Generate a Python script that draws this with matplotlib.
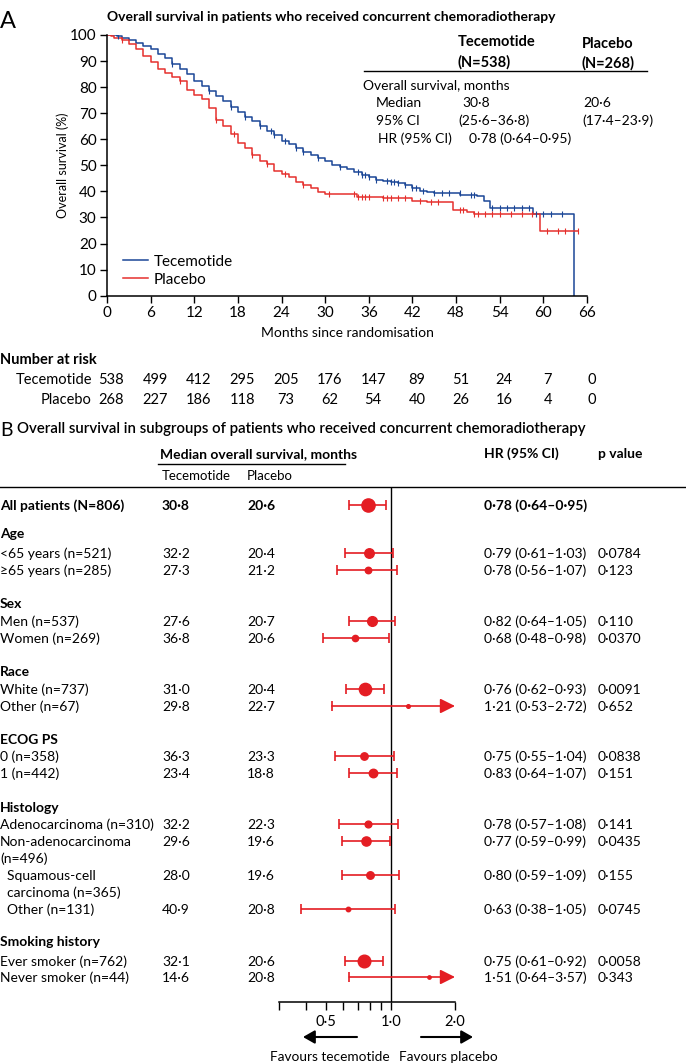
import numpy as np
import matplotlib.pyplot as plt
from matplotlib.lines import Line2D
from matplotlib.patches import FancyArrowPatch
from matplotlib.ticker import NullLocator
from matplotlib.transforms import blended_transform_factory

plt.rcParams['font.family'] = ['Lato', 'DejaVu Sans']

W, H = 686, 1064

# Panel A: Kaplan-Meier curves (months, % alive)
tec_t = [0, 1.4, 2, 3, 4, 5, 6, 7, 8, 9, 10, 11, 12, 13, 14, 15, 16, 17, 18, 19,
         20, 21, 22, 23, 24, 25, 26, 27, 28, 29, 30, 31, 32, 33, 34, 35, 36, 37,
         38, 39, 40, 41, 42, 43, 44, 45, 46.3, 48.6, 50.9, 51.8, 52.7, 58.6, 64.2]
tec_s = [100, 99.5, 99, 98, 97, 95.8, 94.5, 92.8, 91, 89, 87, 85, 82.5, 80.5, 78.5,
         76.5, 74.5, 72.5, 70.5, 68.5, 67, 65, 63, 61.5, 59.5, 58, 56.5, 55.3, 54,
         53, 51.5, 50.3, 49.5, 48.5, 47.3, 46.3, 45.5, 44.5, 44, 43.5, 43.2, 42.3,
         41.3, 40.3, 39.8, 39.5, 39.4, 38.7, 38.1, 36.2, 33.6, 31.4, 0]

pbo_t = [0, 0.5, 1, 2, 3, 4, 5, 6, 7, 8, 9, 10, 11, 12, 13, 14, 15, 16, 17, 18,
         19, 20, 21, 22, 23, 24, 25, 26, 27, 28, 29, 30, 34.4, 38, 42, 44, 47.6,
         49.5, 50.5, 59.5, 64.8]
pbo_s = [100, 99.5, 99, 98, 96.5, 94.5, 92, 89.5, 87, 85.3, 84, 82.5, 79, 77, 75.5,
         72, 67.5, 65, 62, 58.5, 56.5, 54, 51.5, 50.5, 48, 46.5, 45.5, 43.5, 42.5,
         41.5, 39.8, 39, 38, 37.5, 36.5, 35.8, 33, 32.2, 31.4, 25, 25]

tec_cens = [1.5, 9, 14, 17, 19, 21, 22.5, 23, 24.5, 26, 27, 29, 32, 34.5, 35, 35.5,
            36, 37, 38.5, 39, 39.5, 40, 41, 42, 42.5, 43.5, 45, 46, 47, 48.5, 50,
            50.5, 53, 54, 55, 56, 57, 58, 59, 60, 61, 62.5]
pbo_cens = [2, 10, 15, 17.5, 20, 22, 24.5, 27, 30.5, 34, 34.5, 35, 35.5, 36, 38,
            38.5, 39, 40, 41, 43, 44.5, 45.5, 48.5, 49, 50.5, 51, 52, 53, 54, 55.5,
            57, 58.5, 60.5, 62, 63, 64.8]

risk_times = [0, 6, 12, 18, 24, 30, 36, 42, 48, 54, 60, 66]
risk_tec = [538, 499, 412, 295, 205, 176, 147, 89, 51, 24, 7, 0]
risk_pbo = [268, 227, 186, 118, 73, 62, 54, 40, 26, 16, 4, 0]

# Panel B: subgroup forest plot
groups = ['', 'Age', 'Sex', 'Race', 'ECOG PS', 'Histology', 'Smoking history']
row_labels = ['All patients (N=806)', '<65 years (n=521)', '\u226565 years (n=285)',
              'Men (n=537)', 'Women (n=269)', 'White (n=737)', 'Other (n=67)',
              '0 (n=358)', '1 (n=442)', 'Adenocarcinoma (n=310)',
              'Non-adenocarcinoma\n(n=496)', '  Squamous-cell\n  carcinoma (n=365)',
              '  Other (n=131)', 'Ever smoker (n=762)', 'Never smoker (n=44)']
n_pts = [806, 521, 285, 537, 269, 737, 67, 358, 442, 310, 496, 365, 131, 762, 44]
med_tec = ['30\u00b78', '32\u00b72', '27\u00b73', '27\u00b76', '36\u00b78', '31\u00b70',
           '29\u00b78', '36\u00b73', '23\u00b74', '32\u00b72', '29\u00b76', '28\u00b70',
           '40\u00b79', '32\u00b71', '14\u00b76']
med_pbo = ['20\u00b76', '20\u00b74', '21\u00b72', '20\u00b77', '20\u00b76', '20\u00b74',
           '22\u00b77', '23\u00b73', '18\u00b78', '22\u00b73', '19\u00b76', '19\u00b76',
           '20\u00b78', '20\u00b76', '20\u00b78']
hr = [0.78, 0.79, 0.78, 0.82, 0.68, 0.76, 1.21, 0.75, 0.83, 0.78, 0.77, 0.80, 0.63, 0.75, 1.51]
hr_lo = [0.64, 0.61, 0.56, 0.64, 0.48, 0.62, 0.53, 0.55, 0.64, 0.57, 0.59, 0.59, 0.38, 0.61, 0.64]
hr_hi = [0.95, 1.03, 1.07, 1.05, 0.98, 0.93, 2.72, 1.04, 1.07, 1.08, 0.99, 1.09, 1.05, 0.92, 3.57]
pvals = ['', '0\u00b70784', '0\u00b7123', '0\u00b7110', '0\u00b70370', '0\u00b70091',
         '0\u00b7652', '0\u00b70838', '0\u00b7151', '0\u00b7141', '0\u00b70435',
         '0\u00b7155', '0\u00b70745', '0\u00b70058', '0\u00b7343']

BLUE = '#1b4797'
RED = '#e5302d'
FRED = '#e41d23'


def dot(v):
    return f'{v:.2f}'.replace('.', '\u00b7')


fig = plt.figure(figsize=(W / 100, H / 100), dpi=100)


def put(x, y, s, **kw):
    kw.setdefault('va', 'center_baseline')
    kw.setdefault('fontsize', 10)
    return fig.text(x / W, 1 - y / H, s, **kw)


def hline(x0, x1, y, lw=1.0):
    fig.add_artist(Line2D([x0 / W, x1 / W], [1 - y / H, 1 - y / H],
                          transform=fig.transFigure, color='black', lw=lw))


# ---------------- Panel A ----------------
put(0, 19, 'A', fontsize=17)
put(107, 16, 'Overall survival in patients who received concurrent chemoradiotherapy',
    fontsize=10, fontweight='bold')

axk = fig.add_axes([107 / W, 1 - 295.7 / H, 480 / W, 260.7 / H])
axk.plot(tec_t, tec_s, drawstyle='steps-post', color=BLUE, lw=1.1, label='Tecemotide')
axk.plot(pbo_t, pbo_s, drawstyle='steps-post', color=RED, lw=1.1, label='Placebo')

# censoring ticks placed on the step curve
for t, s, c, col in [(tec_t, tec_s, tec_cens, BLUE), (pbo_t, pbo_s, pbo_cens, RED)]:
    idx = np.searchsorted(t, c, side='right') - 1
    axk.plot(c, np.array(s)[idx], ls='none', marker='|', ms=5, mew=0.8, color=col)

axk.set_xlim(0, 66)
axk.set_ylim(0, 100)
axk.set_xticks(risk_times)
axk.set_yticks(range(0, 101, 10))
for sp in ['top', 'right']:
    axk.spines[sp].set_visible(False)
for sp in ['left', 'bottom']:
    axk.spines[sp].set_linewidth(1.1)
axk.tick_params(direction='out', length=5, width=1.0, labelsize=11, pad=2.5)
axk.set_xlabel('Months since randomisation', fontsize=10, labelpad=5)
axk.set_ylabel('Overall survival (%)', fontsize=9, labelpad=1)
axk.legend(loc='lower left', bbox_to_anchor=(0.015, 0.0), frameon=False, fontsize=11,
           handlelength=1.6, handletextpad=0.4, labelspacing=0.25, borderaxespad=0.2)

# summary table
put(458, 41, 'Tecemotide', fontweight='bold', fontsize=10.5)
put(458, 61, '(N=538)', fontweight='bold', fontsize=10.5)
put(582, 42, 'Placebo', fontweight='bold', fontsize=10.5)
put(582, 62, '(N=268)', fontweight='bold', fontsize=10.5)
hline(364, 647, 71)
put(363, 84, 'Overall survival, months')
put(376, 102, 'Median')
put(462, 102, '30\u00b78')
put(583, 102, '20\u00b76')
put(376, 120, '95% CI')
put(458, 120, '(25\u00b76\u201336\u00b78)')
put(582, 120, '(17\u00b74\u201323\u00b79)')
put(378, 138, 'HR (95% CI)')
put(469, 138, '0\u00b778 (0\u00b764\u20130\u00b795)')

# number at risk
put(0, 358, 'Number at risk', fontweight='bold', fontsize=10.5)
put(92, 379, 'Tecemotide', ha='right', fontsize=10.5)
put(92, 398, 'Placebo', ha='right', fontsize=10.5)
tr = blended_transform_factory(axk.transData, fig.transFigure)
for t, a, b in zip(risk_times, risk_tec, risk_pbo):
    axk.text(t + 0.6, 1 - 379 / H, str(a), transform=tr, ha='center',
             va='center_baseline', fontsize=10.5)
    axk.text(t + 0.6, 1 - 398 / H, str(b), transform=tr, ha='center',
             va='center_baseline', fontsize=10.5)

# ---------------- Panel B ----------------
put(0, 429, 'B', fontsize=14)
put(17, 428, 'Overall survival in subgroups of patients who received concurrent chemoradiotherapy',
    fontsize=10.8, fontweight='semibold')
put(160, 453, 'Median overall survival, months', fontweight='bold')
hline(158, 345, 464)
put(484, 453, 'HR (95% CI)', fontweight='bold')
put(598, 453, 'p value', fontweight='bold')
put(162, 475, 'Tecemotide', fontsize=9.5)
put(247, 475, 'Placebo', fontsize=9.5)
hline(0, 686, 487)

# layout of rows (pixel rows from the top of the figure)
header_y = [None, 533, 603, 671, 739, 807, 941]
row_y = [505, 553, 570, 621, 638, 689, 706, 756, 773, 824, 841, 875, 909, 961, 977]

for g, y in zip(groups, header_y):
    if g:
        put(0, y, g, fontweight='bold')

axf = fig.add_axes([279 / W, 1 - 1002 / H, (455 - 279) / W, (1002 - 487) / H])
axf.set_xscale('log')
axf.set_xlim(0.3, 2.0)
axf.set_ylim(1002, 487)
axf.patch.set_visible(False)
axf.axvline(1.0, color='black', lw=1.0)

for i, (lab, y) in enumerate(zip(row_labels, row_y)):
    bold = 'bold' if i == 0 else 'normal'
    for k, line in enumerate(lab.split('\n')):
        put(0, y + 17 * k, line, fontweight=bold)
    put(162, y, med_tec[i], fontweight=bold)
    put(247, y, med_pbo[i], fontweight=bold)
    put(484, y, f'{dot(hr[i])} ({dot(hr_lo[i])}\u2013{dot(hr_hi[i])})', fontweight=bold)
    if pvals[i]:
        put(598, y, pvals[i])

    ms = 2 + 7.5 * n_pts[i] / 806
    if hr_hi[i] <= 2.0:
        axf.errorbar(hr[i], y, xerr=[[hr[i] - hr_lo[i]], [hr_hi[i] - hr[i]]],
                     fmt='o', ms=ms, color=FRED, ecolor=FRED, elinewidth=1.2,
                     capsize=3.5, capthick=1.2, clip_on=False)
    else:
        axf.annotate('', xy=(2.0, y), xytext=(hr_lo[i], y),
                     arrowprops=dict(arrowstyle='-|>,head_length=0.9,head_width=0.45',
                                     color=FRED, lw=1.2, shrinkA=0, shrinkB=0),
                     annotation_clip=False)
        axf.plot(hr_lo[i], y, marker='|', ms=7, mew=1.2, color=FRED)
        axf.plot(hr[i], y, 'o', ms=ms, color=FRED)

for sp in ['top', 'right', 'left']:
    axf.spines[sp].set_visible(False)
axf.spines['bottom'].set_linewidth(1.1)
axf.set_yticks([])
axf.set_xticks([0.3, 0.4, 0.5, 0.6, 0.7, 0.8, 0.9, 1.0, 2.0])
axf.set_xticklabels(['', '', '0\u00b75', '', '', '', '', '1\u00b70', '2\u00b70'])
axf.xaxis.set_minor_locator(NullLocator())
axf.tick_params(axis='x', direction='out', length=6, width=1.0, labelsize=10.5, pad=3)

# favours arrows
for x0, x1 in [(357, 303), (421, 473)]:
    fig.add_artist(FancyArrowPatch((x0 / W, 1 - 1037 / H), (x1 / W, 1 - 1037 / H),
                                   transform=fig.transFigure, arrowstyle='-|>,head_length=7,head_width=4',
                                   color='black', lw=1.5, shrinkA=0, shrinkB=0))
put(390, 1056, 'Favours tecemotide', ha='right', fontsize=9.8)
put(399, 1056, 'Favours placebo', ha='left', fontsize=9.8)

fig.savefig('out.png', dpi=100)
